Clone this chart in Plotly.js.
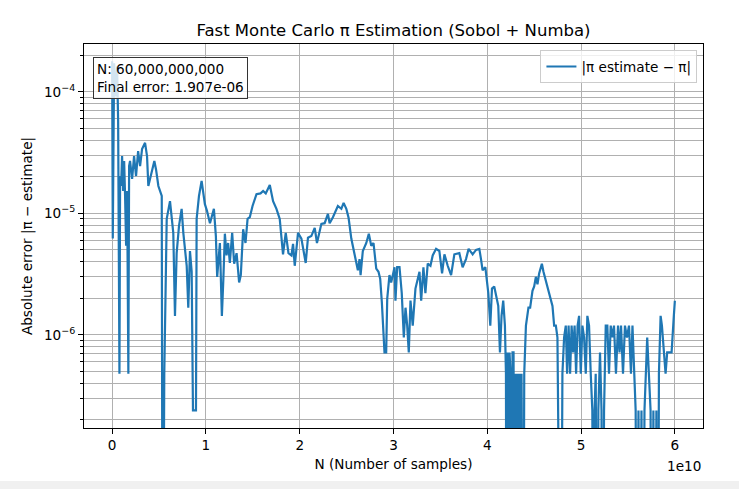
<!DOCTYPE html>
<html><head><meta charset="utf-8">
<script src="https://cdn.plot.ly/plotly-3.0.1.min.js"></script>
<style>html,body{margin:0;padding:0;background:#f0f0f0;} #chart{width:739px;height:481px;background:#fff;}</style>
</head><body><div id="chart"></div>
<script>
// N in billions of samples
const N_billion = [
0.00,0.07,0.21,0.43,0.53,0.64,0.78,0.85,0.96,1.06,1.17,1.28,1.38,1.49,1.60,1.73,1.81,1.91,2.13,2.34,
2.55,2.77,2.98,3.19,3.51,3.72,3.86,4.22,4.50,4.68,4.93,5.29,5.39,5.56,5.82,6.17,6.52,6.70,6.88,7.13,
7.41,7.59,7.95,8.12,8.30,8.48,8.62,8.94,9.01,9.26,9.54,9.89,10.11,10.43,10.64,10.85,11.06,11.20,11.49,11.70,
11.86,12.02,12.20,12.37,12.55,12.80,13.01,13.27,13.54,13.72,13.97,14.22,14.44,14.68,14.97,15.39,15.82,16.10,16.38,16.81,
17.16,17.52,17.87,18.05,18.22,18.51,18.80,19.12,19.29,19.47,19.82,20.18,20.35,20.64,20.88,21.24,21.60,21.84,22.31,22.66,
23.01,23.19,23.54,23.72,24.07,24.44,24.68,24.97,25.21,25.50,25.78,26.03,26.20,26.38,26.49,26.73,27.10,27.37,27.63,27.87,
28.05,28.16,28.40,28.58,28.76,28.86,29.04,29.22,29.33,29.57,29.75,29.93,30.11,30.21,30.39,30.64,30.88,31.10,31.28,31.46,
31.63,31.81,32.05,32.34,32.59,32.77,32.95,33.19,33.40,33.65,33.94,34.18,34.54,34.89,35.18,35.43,35.78,36.14,36.49,37.02,
37.37,37.73,38.01,38.44,38.80,39.15,39.33,39.50,39.79,39.93,40.11,40.32,40.50,40.74,40.99,41.17,41.35,41.52,41.70,41.88,
41.99,42.05,42.16,42.27,42.37,42.48,42.59,42.69,42.80,42.90,43.01,43.12,43.22,43.33,43.44,43.54,43.65,43.83,43.94,44.12,
44.39,44.57,44.82,45.00,45.18,45.35,45.53,45.82,45.99,46.24,46.52,46.78,46.95,47.13,47.31,47.48,47.66,47.84,48.01,48.19,
48.37,48.51,48.67,48.83,48.99,49.15,49.31,49.47,49.63,49.79,49.97,50.14,50.32,50.50,50.67,50.85,51.03,51.20,51.33,51.44,
51.56,51.73,51.84,52.02,52.18,52.29,52.45,52.63,52.80,52.98,53.16,53.33,53.51,53.72,53.94,54.10,54.26,54.47,54.68,54.89,
55.11,55.32,55.48,55.64,55.82,55.96,56.12,56.28,56.44,56.60,56.76,56.88,57.05,57.23,57.41,57.55,57.71,57.87,58.03,58.19,
58.30,58.48,58.62,58.83,59.01,59.18,59.36,59.65,59.89,60.00
];
// |pi estimate - pi|  (0 = exact hit, drawn clipped at the bottom of the log axis)
const abs_error = [
1.79e-4,6.2e-6,1.72e-4,9.2e-5,1.62e-4,5.7e-5,4.77e-7,2.03e-5,1.68e-5,2.96e-5,1.53e-5,2.70e-5,1.39e-5,5.4e-6,1.53e-5,4.77e-7,2.45e-5,2.70e-5,1.92e-5,2.96e-5,
2.03e-5,3.26e-5,2.45e-5,3.38e-5,3.81e-5,2.96e-5,1.68e-5,2.23e-5,2.70e-5,2.30e-5,1.68e-5,1.39e-5,0,4.77e-7,9.0e-6,1.26e-5,6.9e-6,1.43e-6,4.7e-6,7.9e-6,
1.09e-5,6.9e-6,3.7e-6,1.67e-6,4.9e-6,3.3e-6,2.38e-7,2.38e-7,9.0e-6,1.39e-5,1.85e-5,1.19e-5,1.05e-5,8.3e-6,9.3e-6,1.09e-5,6.5e-6,3.0e-6,5.7e-6,1.43e-6,
2.9e-6,6.8e-6,4.5e-6,5.7e-6,3.9e-6,6.9e-6,3.85e-6,4.7e-6,2.7e-6,3.1e-6,7.4e-6,5.7e-6,9.0e-6,9.3e-6,1.15e-5,1.44e-5,1.46e-5,1.53e-5,1.46e-5,1.71e-5,
1.26e-5,1.09e-5,9.0e-6,6.5e-6,4.6e-6,6.9e-6,4.7e-6,4.5e-6,5.6e-6,3.7e-6,6.9e-6,6.2e-6,5.1e-6,3.9e-6,6.3e-6,6.5e-6,7.6e-6,5.7e-6,8.2e-6,8.3e-6,
9.9e-6,8.3e-6,9.3e-6,9.9e-6,1.15e-5,1.09e-5,1.22e-5,1.09e-5,9.2e-6,6.2e-6,4.9e-6,4.2e-6,3.4e-6,4.2e-6,3.1e-6,4.9e-6,5.7e-6,6.8e-6,5.4e-6,5.7e-6,
4.2e-6,3.5e-6,3.3e-6,2.9e-6,1.84e-6,1.19e-6,7.15e-7,7.15e-7,1.98e-6,3.1e-6,2.7e-6,3.1e-6,3.6e-6,1.91e-6,3.6e-6,3.6e-6,2.2e-6,9.5e-7,1.67e-6,1.19e-6,
7.15e-7,1.91e-6,1.19e-6,2.4e-6,2.9e-6,3.3e-6,1.91e-6,3.6e-6,2.2e-6,3.85e-6,3.7e-6,4.5e-6,5.1e-6,4.9e-6,3.2e-6,4.6e-6,3.7e-6,3.1e-6,4.6e-6,4.7e-6,
3.6e-6,4.2e-6,5.1e-6,4.6e-6,5.0e-6,5.1e-6,4.2e-6,3.4e-6,3.6e-6,2.9e-6,2.2e-6,1.19e-6,2.4e-6,2.5e-6,1.98e-6,1.73e-6,7.15e-7,1.43e-6,1.91e-6,1.19e-6,
4.77e-7,0,7.15e-7,0,7.15e-7,4.77e-7,0,7.15e-7,7.15e-7,0,4.77e-7,0,4.77e-7,0,4.77e-7,0,4.77e-7,0,4.77e-7,1.19e-6,
1.67e-6,1.67e-6,2.3e-6,2.5e-6,3.0e-6,2.6e-6,3.2e-6,3.85e-6,3.3e-6,2.8e-6,2.4e-6,1.98e-6,1.73e-6,1.19e-6,1.19e-6,9.5e-7,2.38e-7,0,4.77e-7,9.5e-7,
1.19e-6,4.77e-7,1.19e-6,4.77e-7,1.19e-6,7.15e-7,1.19e-6,4.77e-7,1.19e-6,1.43e-6,4.77e-7,1.19e-6,9.5e-7,4.77e-7,1.43e-6,1.19e-6,4.77e-7,2.38e-7,0,2.38e-7,
4.77e-7,0,2.38e-7,7.15e-7,2.38e-7,0,2.38e-7,1.19e-6,1.19e-6,4.77e-7,1.19e-6,9.5e-7,1.19e-6,4.77e-7,1.19e-6,7.15e-7,1.19e-6,4.77e-7,1.19e-6,9.5e-7,
1.19e-6,4.77e-7,1.19e-6,4.77e-7,2.38e-7,0,2.38e-7,0,2.38e-7,0,2.38e-7,4.77e-7,9.5e-7,4.77e-7,2.38e-7,0,2.38e-7,0,2.38e-7,0,
4.77e-7,1.43e-6,1.19e-6,7.15e-7,4.77e-7,7.15e-7,7.15e-7,7.15e-7,1.43e-6,1.907e-6
];
const xTickVals = [0, 1, 2, 3, 4, 5, 6];          // units of 1e10
const xTickText = ['0', '1', '2', '3', '4', '5', '6'];
const yTickVals = [1e-6, 1e-5, 1e-4];
const yTickText = ['10<sup>−6</sup>', '10<sup>−5</sup>', '10<sup>−4</sup>'];
const seriesName = '|π estimate − π|';
const totalN = '60,000,000,000';
const finalError = '1.907e-06';

const yMinor = [];
for (let d = -7; d <= -4; d++) for (let k = 2; k <= 9; k++) yMinor.push(k * Math.pow(10, d));

const FONT = 'DejaVu Sans, sans-serif';
const trace = {
  x: N_billion.map(v => v * 1e9),
  y: abs_error.map(v => v > 0 ? v : 1e-9),
  mode: 'lines', name: seriesName,
  line: {color: '#1f77b4', width: 2.2}
};
const layout = {
  width: 739, height: 481,
  margin: {l: 84, r: 36, t: 44, b: 53, pad: 0},
  paper_bgcolor: '#ffffff', plot_bgcolor: '#ffffff',
  font: {family: FONT, size: 13.6, color: '#000'},
  showlegend: true,
  title: {text: 'Fast Monte Carlo π Estimation (Sobol + Numba)', font: {family: FONT, size: 16.5, color: '#000'},
          xref: 'paper', x: 0.5, xanchor: 'center', yref: 'container', y: 0.9376, yanchor: 'middle'},
  xaxis: {
    range: [-0.3e10, 6.3e10], tickmode: 'array',
    tickvals: xTickVals.map(v => v * 1e10), ticktext: xTickText,
    ticks: 'outside', ticklen: 5, tickwidth: 1, tickcolor: '#000',
    showline: true, linecolor: '#000', linewidth: 1, mirror: true,
    showgrid: true, gridcolor: '#b0b0b0', gridwidth: 1, zeroline: false,
    title: {text: 'N (Number of samples)', standoff: 7, font: {family: FONT, size: 13.6}}
  },
  yaxis: {
    type: 'log', range: [-6.768, -3.605], tickmode: 'array',
    tickvals: yTickVals, ticktext: yTickText,
    ticks: 'outside', ticklen: 5, tickwidth: 1, tickcolor: '#000',
    minor: {tickmode: 'array', tickvals: yMinor, ticks: 'outside', ticklen: 3, tickwidth: 1, tickcolor: '#000',
            showgrid: true, gridcolor: '#b0b0b0', gridwidth: 1},
    showline: true, linecolor: '#000', linewidth: 1, mirror: true,
    showgrid: true, gridcolor: '#b0b0b0', gridwidth: 1, zeroline: false,
    title: {text: 'Absolute error |π − estimate|', standoff: 8, font: {family: FONT, size: 13.6}}
  },
  legend: {x: 0.991, xanchor: 'right', y: 0.984, yanchor: 'top',
           bgcolor: 'rgba(255,255,255,0.8)', bordercolor: '#cccccc', borderwidth: 1,
           font: {family: FONT, size: 13.6}},
  annotations: [
    {xref: 'paper', yref: 'paper', x: 0.014, y: 0.965, xanchor: 'left', yanchor: 'top',
     text: 'N: ' + totalN + '<br>Final error: ' + finalError, align: 'left', showarrow: false,
     bgcolor: 'rgba(255,255,255,0.8)', bordercolor: '#333333', borderwidth: 1, borderpad: 3,
     font: {family: FONT, size: 13.6, color: '#000'}},
    {xref: 'paper', yref: 'paper', x: 1, y: -0.10, xanchor: 'right', yanchor: 'middle',
     text: '1e10', showarrow: false, font: {family: FONT, size: 13.6, color: '#000'}}
  ]
};
Plotly.newPlot('chart', [trace], layout, {staticPlot: true, displayModeBar: false});
</script></body></html>
